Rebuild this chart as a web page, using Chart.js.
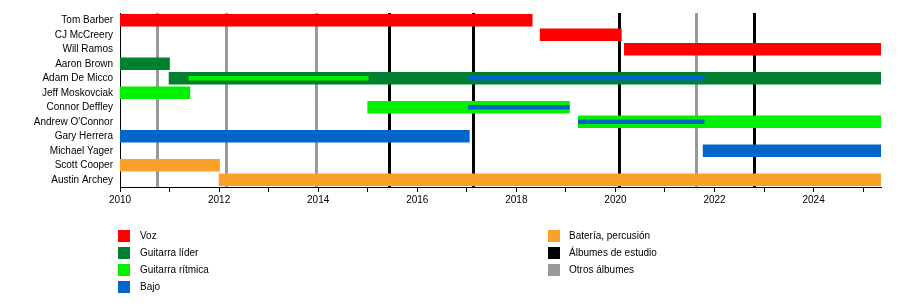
<!DOCTYPE html>
<html>
<head>
<meta charset="utf-8">
<script src="https://cdn.jsdelivr.net/npm/chart.js@4/dist/chart.umd.min.js"></script>
<style>
  html, body { margin: 0; padding: 0; background: #fff; }
  #wrap { position: relative; width: 900px; height: 306px; overflow: hidden; }
  canvas { position: absolute; left: 0; top: 0; }
  .leg { position: absolute; font-family: "Liberation Sans", Arial, sans-serif; font-size: 10px; color: #000; line-height: 12px; white-space: nowrap; }
  .sw { position: absolute; width: 12px; height: 12px; }
</style>
</head>
<body>
<div id="wrap">
  <canvas id="c" width="900" height="306"></canvas>
  <div id="legend"></div>
</div>
<script>
// ---- Data ----
const members = ["Tom Barber", "CJ McCreery", "Will Ramos", "Aaron Brown", "Adam De Micco",
  "Jeff Moskovciak", "Connor Deffley", "Andrew O'Connor", "Gary Herrera", "Michael Yager",
  "Scott Cooper", "Austin Archey"];
const timelineStart = 2010;
const timelineEnd = 2025.36;
const yearTicks = [2010, 2012, 2014, 2016, 2018, 2020, 2022, 2024];

// main role bars, one entry per member (null = none)
const vocals       = [[2010, 2018.32], [2018.48, 2020.12], [2020.18, 2025.36], null, null, null, null, null, null, null, null, null];
const leadGuitar   = [null, null, null, [2010, 2011.0], [2010.99, 2025.36], null, null, null, null, null, null, null];
const rhythmGuitar = [null, null, null, null, null, [2010, 2011.41], [2015.0, 2019.07], [2019.25, 2025.36], null, null, null, null];
const bass         = [null, null, null, null, null, null, null, null, [2010, 2017.05], [2021.77, 2025.36], null, null];
const drums        = [null, null, null, null, null, null, null, null, null, null, [2010, 2012.01], [2012.0, 2025.36]];
// secondary (thin) role bars
const rhythmGuitar2 = [null, null, null, null, [2011.39, 2015.01], null, null, null, null, null, null, null];
const bass2         = [null, null, null, null, [2017.03, 2021.79], null, [2017.03, 2019.07], [2019.25, 2021.79], null, null, null, null];

const studioAlbums = [2015.43, 2017.13, 2020.08, 2022.79];
const otherAlbums  = [2010.75, 2012.13, 2013.96, 2021.62];

const legendLeft  = [["Voz", "#FF0000"], ["Guitarra líder", "#00802F"], ["Guitarra rítmica", "#00F000"], ["Bajo", "#0066CC"]];
const legendRight = [["Batería, percusión", "#F9A12A"], ["Álbumes de estudio", "#000000"], ["Otros álbumes", "#999999"]];

// ---- Chart ----
Chart.defaults.font.family = '"Liberation Sans", Arial, sans-serif';
Chart.defaults.font.size = 10;
Chart.defaults.color = '#000';

const albumLines = {
  id: 'albumLines',
  beforeDatasetsDraw(chart) {
    const {ctx, chartArea, scales} = chart;
    ctx.save();
    ctx.lineWidth = 3;
    const draw = (vals, color) => {
      ctx.strokeStyle = color;
      vals.forEach(v => {
        const x = Math.round(scales.x.getPixelForValue(v)) + 0.5;
        ctx.beginPath();
        ctx.moveTo(x, chartArea.top);
        ctx.lineTo(x, chartArea.bottom);
        ctx.stroke();
      });
    };
    draw(otherAlbums, '#999999');
    draw(studioAlbums, '#000000');
    ctx.restore();
  }
};

function ds(label, data, color, thick, order) {
  return { label, data, backgroundColor: color, borderWidth: 0, barThickness: thick, grouped: false, order };
}

new Chart(document.getElementById('c'), {
  type: 'bar',
  data: {
    labels: members,
    datasets: [
      ds('Voz', vocals, '#FF0000', 12, 2),
      ds('Guitarra líder', leadGuitar, '#00802F', 12, 2),
      ds('Guitarra rítmica', rhythmGuitar, '#00F000', 12, 2),
      ds('Bajo', bass, '#0066CC', 12, 2),
      ds('Batería, percusión', drums, '#F9A12A', 12, 2),
      ds('Guitarra rítmica (2)', rhythmGuitar2, '#00F000', 4, 1),
      ds('Bajo (2)', bass2, '#0066CC', 4, 1)
    ]
  },
  options: {
    indexAxis: 'y',
    responsive: false,
    animation: false,
    layout: { padding: { left: 0, right: 19, top: 9, bottom: 0 } },
    plugins: { legend: { display: false }, tooltip: { enabled: false } },
    scales: {
      x: {
        type: 'linear',
        min: timelineStart,
        max: timelineEnd,
        afterFit(scale) { scale.height = 119; },
        afterBuildTicks(scale) {
          const t = [];
          for (let y = timelineStart; y <= Math.floor(timelineEnd); y++) t.push({ value: y });
          scale.ticks = t;
        },
        ticks: {
          autoSkip: false,
          maxRotation: 0,
          padding: 2,
          callback: v => yearTicks.includes(v) ? String(v) : ''
        },
        grid: { drawOnChartArea: false, drawTicks: true, tickLength: 5, color: '#000', lineWidth: 1 },
        border: { display: true, color: '#000', width: 1 }
      },
      y: {
        afterFit(scale) { scale.width = 120; },
        ticks: { padding: 7, autoSkip: false },
        grid: { drawOnChartArea: false, drawTicks: false },
        border: { display: true, color: '#000', width: 1 }
      }
    }
  },
  plugins: [albumLines]
});

// ---- HTML legend ----
const legendEl = document.getElementById('legend');
function addLegend(items, sx, tx) {
  const rowsY = [230, 247, 264, 281];
  items.forEach(([txt, col], i) => {
    const s = document.createElement('div');
    s.className = 'sw';
    s.style.left = sx + 'px'; s.style.top = rowsY[i] + 'px'; s.style.background = col;
    legendEl.appendChild(s);
    const t = document.createElement('div');
    t.className = 'leg';
    t.style.left = tx + 'px'; t.style.top = rowsY[i] + 'px';
    t.textContent = txt;
    legendEl.appendChild(t);
  });
}
addLegend(legendLeft, 118, 140);
addLegend(legendRight, 548, 569);
</script>
</body>
</html>
